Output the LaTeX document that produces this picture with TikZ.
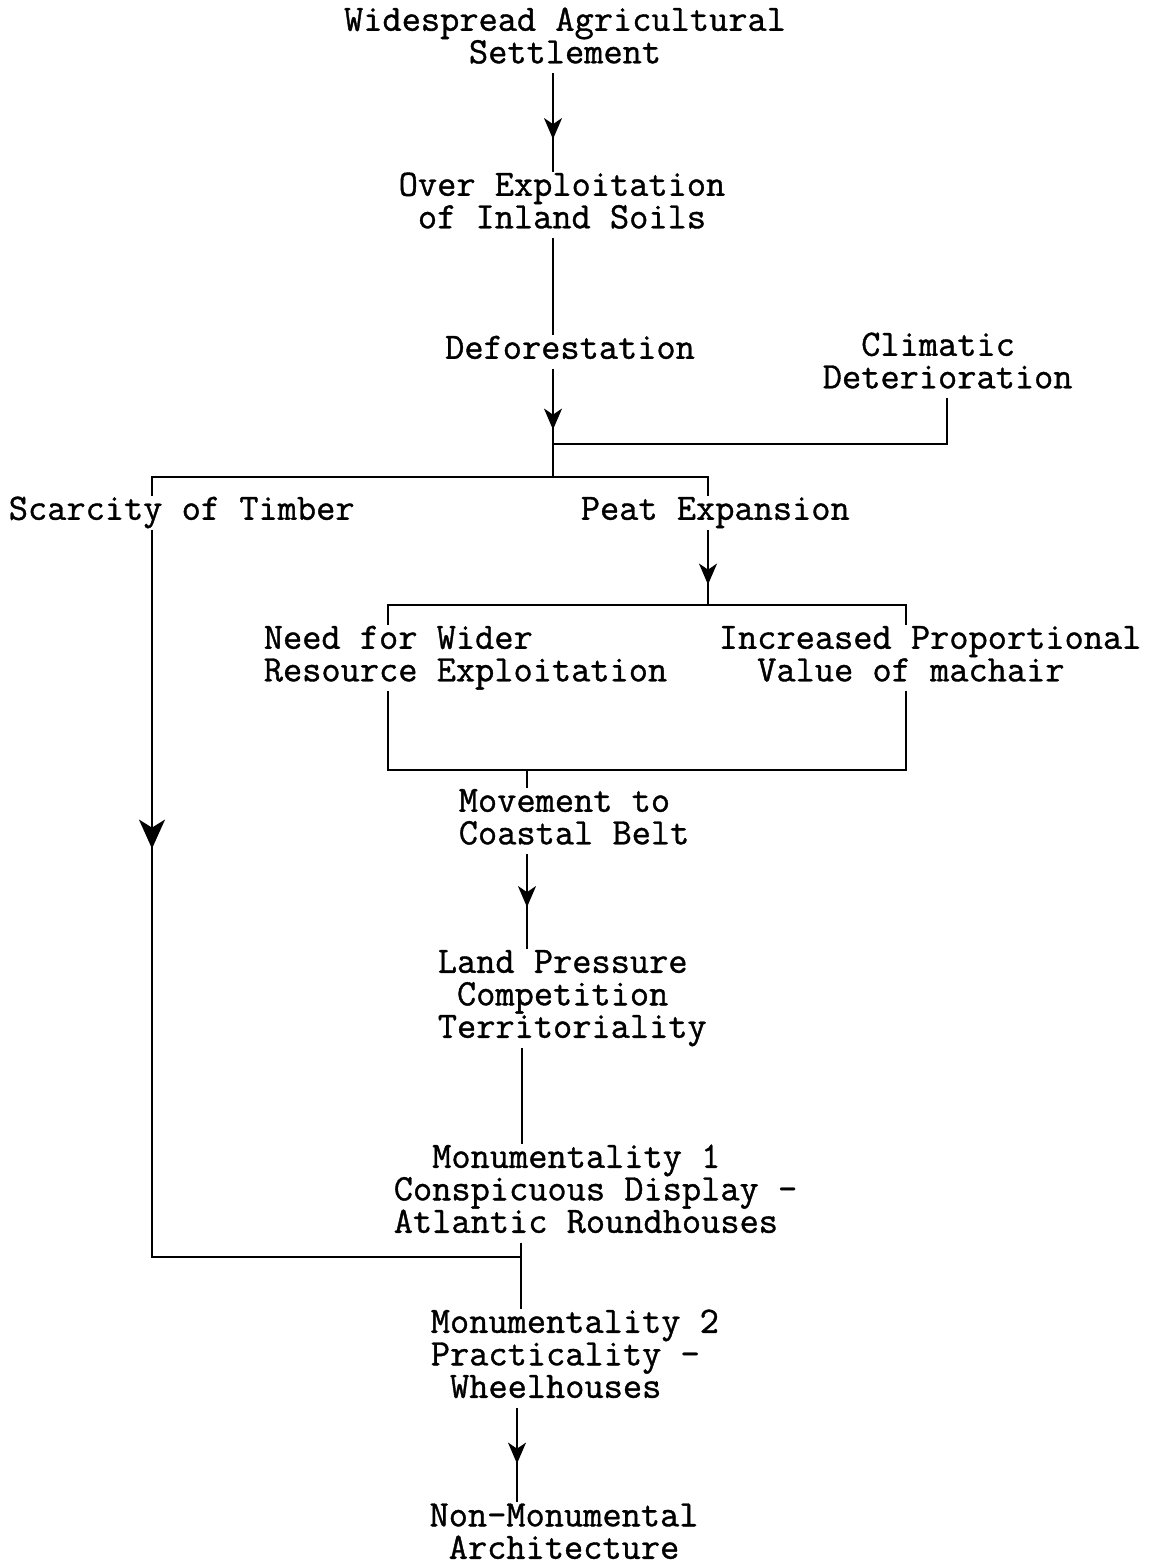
\documentclass[tikz,border=0pt]{standalone}
\usepackage{fontspec}
\usetikzlibrary{arrows.meta,decorations.markings}
% typewriter face, slightly heavier than the default stroke
\newfontfamily\tw{Latin Modern Mono}[FakeBold=1]
% strut giving every text line the same height and depth
\newcommand\rs{\rule[-9pt]{0pt}{32.5pt}}
\begin{document}
\begin{tikzpicture}[x=1pt,y=-1pt,
  line width=1.6pt,
  lbl/.style={inner sep=0pt, font=\fontsize{37.3}{32.5}\selectfont\tw},
  lblc/.style={lbl, anchor=north, align=center},
  lbll/.style={lbl, anchor=north west, align=left},
  midarrow/.style={postaction={decorate, decoration={markings,
      mark=at position #1 with {\arrow{Stealth[length=21pt,width=18pt,inset=6pt]}}}}},
  bigarrow/.style={postaction={decorate, decoration={markings,
      mark=at position #1 with {\arrow{Stealth[length=29pt,width=26pt,inset=8pt]}}}}}]
\useasboundingbox (0,0) rectangle (1156,1566);

% statements
\node[lblc] (settle) at (565,6.5) {\rs Widespread Agricultural\\\rs Settlement};
\node[lblc] (over)   at (562,171.5) {\rs Over Exploitation\\\rs of Inland Soils};
\node[lblc] (defor)  at (570,334.5) {\rs Deforestation};
\node[lbll] (clim)   at (822,331.5) {\rs\phantom{De}Climatic\\\rs Deterioration};
\node[lbll] (scar)   at (8,495.5) {\rs Scarcity of Timber};
\node[lbll] (peat)   at (580,495.5) {\rs Peat Expansion};
\node[lbll] (need)   at (263,624.5) {\rs Need for Wider\\\rs Resource Exploitation};
\node[lbll] (incr)   at (718,624.5) {\rs Increased Proportional\\\rs\phantom{In}Value of machair};
\node[lbll] (move)   at (458,787.5) {\rs Movement to\\\rs Coastal Belt};
\node[lbll] (land)   at (437,948.5) {\rs Land Pressure\\\rs\phantom{L}Competition\\\rs Territoriality};
\node[lbll] (mon1)   at (393,1143.5) {\rs\phantom{Co}Monumentality 1\\\rs Conspicuous Display -\\\rs Atlantic Roundhouses};
\node[lbll] (mon2)   at (430,1308.5) {\rs Monumentality 2\\\rs Practicality -\\\rs\phantom{P}Wheelhouses};
\node[lblc] (non)    at (564,1502) {\rs Non-Monumental\\\rs Architecture};

% junction points of the connectors
\coordinate (cj) at (947,444);
\coordinate (j1) at (553,444);
\coordinate (j2) at (553,477);
\coordinate (sL) at (152,477);
\coordinate (sR) at (708,477);
\coordinate (pB) at (708,605);
\coordinate (bL) at (388,605);
\coordinate (bR) at (906,605);
\coordinate (cL) at (388,770);
\coordinate (cR) at (906,770);
\coordinate (cM) at (527,770);
\coordinate (lx) at (522,1100);
\coordinate (m1) at (521,1257);
\coordinate (mL) at (152,1257);
\coordinate (nx) at (517,1450);

% connectors
\draw[midarrow=66pt] (settle.south -| j2) -- (over.north -| j2);
\draw (over.south -| j2) -- (defor.north -| j2);
\draw[midarrow=61pt] (defor.south -| j2) -- (j2);
\draw (clim.south -| cj) -- (cj) -- (j1);
\draw (sL |- scar.north) -- (sL) -- (sR) -- (sR |- peat.north);
\draw[bigarrow=319pt] (scar.south -| sL) -- (mL) -- (m1);
\draw[midarrow=55pt] (peat.south -| sR) -- (pB);
\draw (bL |- need.north) -- (bL) -- (bR) -- (bR |- incr.north);
\draw (need.south -| bL) -- (cL) -- (cR) -- (incr.south -| bR);
\draw (cM) -- (move.north -| cM);
\draw[midarrow=53pt] (move.south -| cM) -- (land.north -| cM);
\draw (land.south -| lx) -- (mon1.north -| lx);
\draw (mon1.south -| m1) -- (mon2.north -| m1);
\draw[midarrow=56pt] (mon2.south -| nx) -- (non.north -| nx);
\end{tikzpicture}
\end{document}
